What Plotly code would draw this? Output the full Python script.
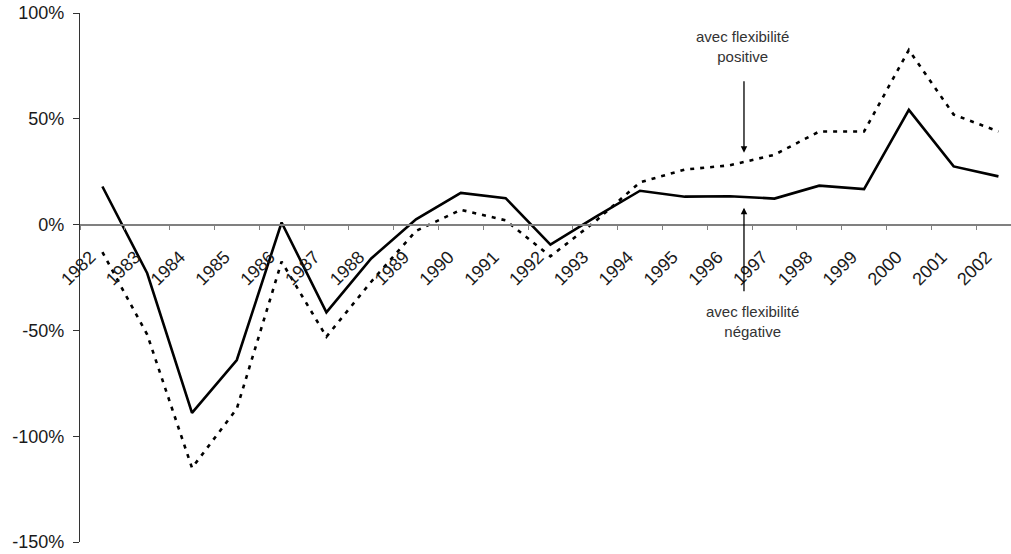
import plotly.graph_objects as go

years = [str(y) for y in range(1982, 2003)]
negative_flex = [18, -23, -89, -64, 1, -41.5, -16, 2.5, 15, 12.5, -9.5, 3.5, 16, 13.2, 13.4, 12.3, 18.4, 16.8, 54.2, 27.5, 22.8]
positive_flex = [-13, -52, -115, -87, -17.5, -53, -27, -3, 7, 2, -15, 1.5, 20, 26, 28, 33, 44, 44, 82.5, 52, 44]

y_tick_vals = [-150, -100, -50, 0, 50, 100]
y_tick_text = ["-150%", "-100%", "-50%", "0%", "50%", "100%"]

FONT = "Arial, 'Liberation Sans', sans-serif"

fig = go.Figure()
fig.add_trace(go.Scatter(x=years, y=positive_flex, mode="lines",
                         line=dict(color="black", width=2.6, dash="4px,6px"),
                         showlegend=False, hoverinfo="skip"))
fig.add_trace(go.Scatter(x=years, y=negative_flex, mode="lines",
                         line=dict(color="black", width=2.6),
                         showlegend=False, hoverinfo="skip"))

fig.update_layout(
    width=1011, height=554,
    margin=dict(l=80, r=0, t=13, b=12, autoexpand=False),
    paper_bgcolor="white", plot_bgcolor="white",
    font=dict(family=FONT, size=18, color="#1a1a1a"),
    showlegend=False,
)
fig.update_xaxes(
    type="category", range=[-0.5, 20.28],
    anchor="free", position=0.6, automargin=False,
    showline=True, linecolor="#808080", linewidth=1.5,
    ticks="outside", tickson="boundaries", ticklen=5, tickcolor="#808080",
    tickangle=-45, ticklabelshift=-12, ticklabelstandoff=14,
    tickfont=dict(size=18, family=FONT, color="#1a1a1a"),
    showgrid=False, zeroline=False,
)
fig.update_yaxes(
    range=[-150, 100], tickvals=y_tick_vals, ticktext=y_tick_text,
    automargin=False,
    showline=True, linecolor="#333333", linewidth=1.2,
    ticks="outside", ticklen=6, tickcolor="#333333", ticklabelstandoff=5,
    tickfont=dict(size=18, family=FONT, color="#1a1a1a"),
    showgrid=False, zeroline=False,
)

# annotations
fig.add_annotation(x=14.32, y=34, xref="x", yref="y", text="", showarrow=True,
                   ax=0, ay=-73, arrowhead=2, arrowsize=1, arrowwidth=1.3, arrowcolor="black")
fig.add_annotation(x=14.28, y=84.4, xref="x", yref="y",
                   text="avec flexibilité<br>positive", showarrow=False,
                   font=dict(size=15, family=FONT, color="#333333"))
fig.add_annotation(x=14.32, y=8, xref="x", yref="y", text="", showarrow=True,
                   ax=0, ay=85, arrowhead=2, arrowsize=1, arrowwidth=1.3, arrowcolor="black")
fig.add_annotation(x=14.52, y=-45.8, xref="x", yref="y",
                   text="avec flexibilité<br>négative", showarrow=False,
                   font=dict(size=15, family=FONT, color="#333333"))

fig.write_html("out.html", config={"displayModeBar": False},
               post_script="document.body.style.margin='0';")
